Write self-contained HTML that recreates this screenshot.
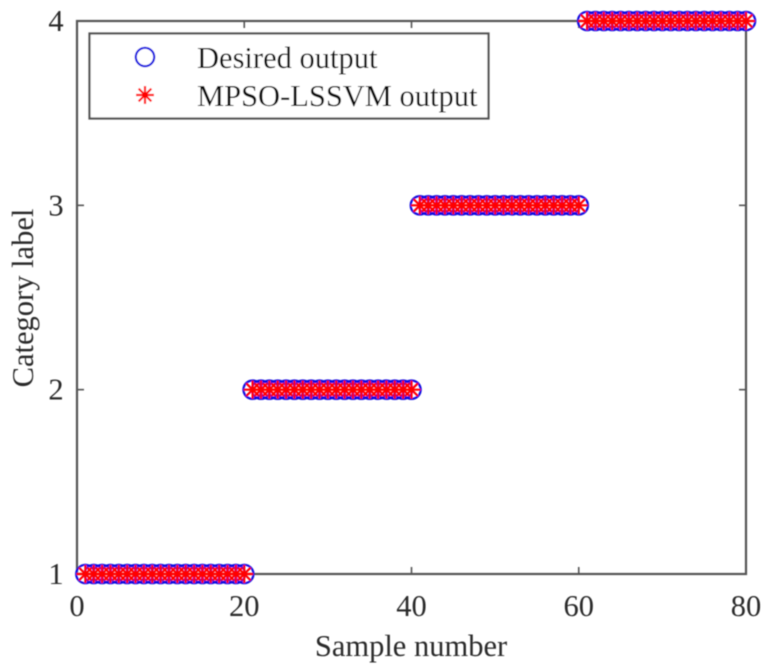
<!DOCTYPE html>
<html>
<head>
<meta charset="utf-8">
<style>
html,body{margin:0;padding:0;background:#fff;}
svg{display:block;}
text{font-family:"Liberation Serif",serif;fill:#2b2b2b;}
</style>
</head>
<body>
<svg id="chart" width="769" height="666" viewBox="0 0 769 666" xmlns="http://www.w3.org/2000/svg">
  <defs><filter id="soft" x="-5%" y="-5%" width="110%" height="110%"><feGaussianBlur stdDeviation="0.45"/></filter></defs>
  <g filter="url(#soft)">
  <rect x="77" y="21" width="669" height="553" fill="none" stroke="#555" stroke-width="2.2"/>
  <g id="ticks"></g>
  <g id="markers-desired"></g>
  <g id="markers-predicted"></g>
  <text x="411" y="656" font-size="30.5" text-anchor="middle">Sample number</text>
  <text transform="translate(33,298) rotate(-90)" font-size="30.5" text-anchor="middle">Category label</text>
  <g>
    <rect x="89.5" y="33.5" width="399" height="85" fill="#fff" stroke="#555" stroke-width="2.2"/>
    <g id="legend-markers"></g>
    <text x="197" y="68" font-size="30.5" style="fill:#111">Desired output</text>
    <text x="197" y="106" font-size="30.5" style="fill:#111">MPSO-LSSVM output</text>
  </g>
  </g>
</svg>
<script>
var xTickLabels = [0, 20, 40, 60, 80];
var yTickLabels = [1, 2, 3, 4];
var sampleNumbers = [1,2,3,4,5,6,7,8,9,10,11,12,13,14,15,16,17,18,19,20,21,22,23,24,25,26,27,28,29,30,31,32,33,34,35,36,37,38,39,40,41,42,43,44,45,46,47,48,49,50,51,52,53,54,55,56,57,58,59,60,61,62,63,64,65,66,67,68,69,70,71,72,73,74,75,76,77,78,79,80];
var desiredOutput = [1,1,1,1,1,1,1,1,1,1,1,1,1,1,1,1,1,1,1,1,2,2,2,2,2,2,2,2,2,2,2,2,2,2,2,2,2,2,2,2,3,3,3,3,3,3,3,3,3,3,3,3,3,3,3,3,3,3,3,3,4,4,4,4,4,4,4,4,4,4,4,4,4,4,4,4,4,4,4,4];
var predictedOutput = [1,1,1,1,1,1,1,1,1,1,1,1,1,1,1,1,1,1,1,1,2,2,2,2,2,2,2,2,2,2,2,2,2,2,2,2,2,2,2,2,3,3,3,3,3,3,3,3,3,3,3,3,3,3,3,3,3,3,3,3,4,4,4,4,4,4,4,4,4,4,4,4,4,4,4,4,4,4,4,4];

var NS = 'http://www.w3.org/2000/svg';
function xScale(v) { return 77 + (v - 0) / (80 - 0) * 669; }
function yScale(v) { return 574 - (v - 1) / (4 - 1) * 553; }

function make(tag, attrs, parent) {
  var el = document.createElementNS(NS, tag);
  for (var k in attrs) { el.setAttribute(k, attrs[k]); }
  parent.appendChild(el);
  return el;
}
function drawCircle(parent, cx, cy) {
  var c = make('circle', {cx: cx, cy: cy, r: 9.2, fill: 'none', stroke: '#1010e0', 'stroke-width': 2.2}, parent);
  
  
}
function drawStar(parent, cx, cy) {
  var g = make('g', {stroke: '#ff0000', 'stroke-width': 2.2}, parent);
  
  
  var r = 9, d = r * 0.707;
  make('line', {x1: cx - r, y1: cy, x2: cx + r, y2: cy}, g);
  make('line', {x1: cx, y1: cy - r, x2: cx, y2: cy + r}, g);
  make('line', {x1: cx - d, y1: cy - d, x2: cx + d, y2: cy + d}, g);
  make('line', {x1: cx - d, y1: cy + d, x2: cx + d, y2: cy - d}, g);
}

var gDesired = document.getElementById('markers-desired');
var gPredicted = document.getElementById('markers-predicted');
sampleNumbers.forEach(function (s, i) {
  drawCircle(gDesired, xScale(s), yScale(desiredOutput[i]));
});
sampleNumbers.forEach(function (s, i) {
  drawStar(gPredicted, xScale(s), yScale(predictedOutput[i]));
});

var gTicks = document.getElementById('ticks');
xTickLabels.forEach(function (t) {
  var x = xScale(t);
  var a = make('line', {x1: x, y1: 574, x2: x, y2: 567, stroke: '#555', 'stroke-width': 1.6}, gTicks);
  
  
  var b = make('line', {x1: x, y1: 21, x2: x, y2: 28, stroke: '#555', 'stroke-width': 1.6}, gTicks);
  
  
  var l = make('text', {x: x, y: 616, 'font-size': 30.5, 'text-anchor': 'middle'}, gTicks);
  
  
  l.textContent = t;
});
yTickLabels.forEach(function (t) {
  var y = yScale(t);
  var a = make('line', {x1: 77, y1: y, x2: 84, y2: y, stroke: '#555', 'stroke-width': 1.6}, gTicks);
  
  
  var b = make('line', {x1: 746, y1: y, x2: 739, y2: y, stroke: '#555', 'stroke-width': 1.6}, gTicks);
  
  
  var l = make('text', {x: 56, y: y + 10, 'font-size': 30.5, 'text-anchor': 'middle'}, gTicks);
  
  
  l.textContent = t;
});

var gLegend = document.getElementById('legend-markers');
drawCircle(gLegend, 145, 57);
drawStar(gLegend, 145, 95);
</script>
</body>
</html>
